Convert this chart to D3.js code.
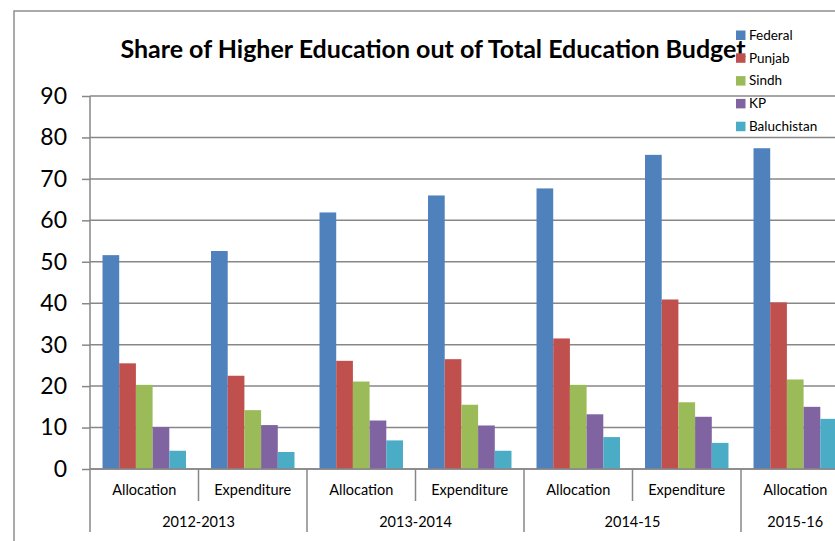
<!DOCTYPE html>
<html>
<head>
<meta charset="utf-8">
<script src="https://cdn.jsdelivr.net/npm/d3@7"></script>
<style>
	body { margin: 0; background: #fff; }
	svg { display: block; font-family: Lato, "Open Sans", sans-serif; }
</style>
</head>
<body>
<svg id="chart" width="835" height="541"></svg>
<script>
var categories = ["Allocation", "Expenditure", "Allocation", "Expenditure", "Allocation", "Expenditure", "Allocation"];
var years = ["2012-2013", "2013-2014", "2014-15", "2015-16"];
var yearSpan = [2, 2, 2, 1];

var seriesNames = ["Federal", "Punjab", "Sindh", "KP", "Baluchistan"];
var federal     = [51.6, 52.6, 61.9, 66.0, 67.7, 75.8, 77.4];
var punjab      = [25.5, 22.5, 26.1, 26.5, 31.5, 40.9, 40.2];
var sindh       = [20.3, 14.2, 21.1, 15.5, 20.3, 16.1, 21.6];
var kp          = [10.1, 10.6, 11.7, 10.5, 13.2, 12.6, 15.0];
var baluchistan = [4.4, 4.1, 6.9, 4.4, 7.7, 6.3, 12.1];
var yTicks = [0, 10, 20, 30, 40, 50, 60, 70, 80, 90];

var colors = ["#4f81bd", "#c0504d", "#9bbb59", "#8064a2", "#4bacc6"];
var series = [federal, punjab, sindh, kp, baluchistan];

var svg = d3.select("#chart"),
	margin = {top: 96, left: 90, bottom: 72},
	height = +svg.attr("height");

var idx = d3.range(categories.length);

// plot runs past the right edge, like the cropped original
var x = d3.scaleBand()
	.domain(idx)
	.range([margin.left, margin.left + 108.5 * categories.length]);

var xs = d3.scaleBand()
	.domain(d3.range(seriesNames.length))
	.range([0, x.bandwidth()])
	.paddingOuter(0.75);

var y = d3.scaleLinear()
	.domain([0, 90])
	.range([height - margin.bottom, margin.top]);

var gridColor = "#878787";

// outer frame
svg.append("path")
	.attr("d", "M14," + height + "V11H835")
	.attr("fill", "none")
	.attr("stroke", "#8e8e8e")
	.attr("stroke-width", 1.5);

// gridlines
svg.append("g")
	.selectAll("line")
	.data(yTicks)
	.enter().append("line")
	.attr("x1", margin.left)
	.attr("x2", 835)
	.attr("y1", d => y(d))
	.attr("y2", d => y(d))
	.attr("stroke", gridColor)
	.attr("stroke-width", 1.5);

// bars
var groups = svg.append("g")
	.selectAll("g")
	.data(series)
	.enter().append("g")
	.attr("fill", (d, i) => colors[i]);

groups.each(function(vals, si) {
	d3.select(this).selectAll("rect")
		.data(vals)
		.enter().append("rect")
		.attr("x", (d, i) => x(i) + xs(si))
		.attr("width", xs.bandwidth())
		.attr("y", d => y(d))
		.attr("height", d => y(0) - y(d));
});

// y axis
var yAxis = svg.append("g")
	.attr("transform", "translate(" + margin.left + ",0)")
	.call(d3.axisLeft(y).tickValues(yTicks).tickSize(8).tickPadding(15));

yAxis.select(".domain").remove();
yAxis.selectAll("line").attr("stroke", gridColor).attr("stroke-width", 1.5);
yAxis.selectAll("text")
	.attr("font-size", 23)
	.attr("font-family", "Lato, sans-serif")
	.attr("fill", "#000");

// category axis: lines and dividers
var axisY = y(0);
svg.append("line")
	.attr("x1", margin.left).attr("x2", 835)
	.attr("y1", axisY).attr("y2", axisY)
	.attr("stroke", gridColor).attr("stroke-width", 1.5);

var yearStart = [0];
yearSpan.forEach((s, i) => yearStart.push(yearStart[i] + s));

svg.append("g")
	.selectAll("line")
	.data(d3.range(categories.length + 1))
	.enter().append("line")
	.attr("x1", d => d < categories.length ? x(d) : x.range()[1])
	.attr("x2", d => d < categories.length ? x(d) : x.range()[1])
	.attr("y1", d => d === 0 ? margin.top : axisY)
	.attr("y2", d => yearStart.includes(d) ? 532 : 501)
	.attr("stroke", gridColor)
	.attr("stroke-width", 1.5);

svg.append("g")
	.selectAll("text")
	.data(categories)
	.enter().append("text")
	.attr("x", (d, i) => x(i) + x.bandwidth() / 2)
	.attr("y", 495)
	.attr("text-anchor", "middle")
	.attr("font-size", 14.5)
	.text(d => d);

svg.append("g")
	.selectAll("text")
	.data(years)
	.enter().append("text")
	.attr("x", (d, i) => (x(yearStart[i]) + x(yearStart[i + 1] - 1) + x.bandwidth()) / 2)
	.attr("y", 527)
	.attr("text-anchor", "middle")
	.attr("font-size", 14.5)
	.text(d => d);

// title
svg.append("text")
	.attr("x", 433)
	.attr("y", 58)
	.attr("text-anchor", "middle")
	.attr("font-size", 25)
	.attr("font-weight", "bold")
	.text("Share of Higher Education out of Total Education Budget");

// legend
var legend = svg.append("g")
	.selectAll("g")
	.data(seriesNames)
	.enter().append("g")
	.attr("transform", (d, i) => "translate(736," + (35 + i * 22.8) + ")");

legend.append("rect")
	.attr("y", -4.5)
	.attr("width", 9.5)
	.attr("height", 9.5)
	.attr("fill", (d, i) => colors[i]);

legend.append("text")
	.attr("x", 13)
	.attr("dy", "0.35em")
	.attr("font-size", 13.5)
	.text(d => d);
</script>
</body>
</html>
